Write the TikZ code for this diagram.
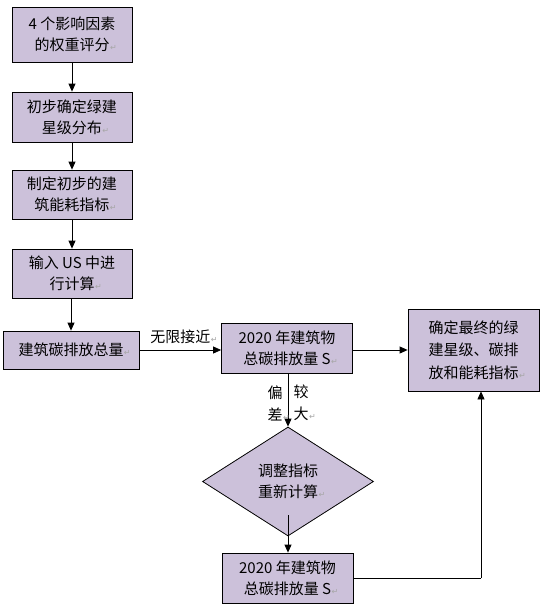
\documentclass[tikz,border=0pt]{standalone}
\usepackage{fontspec}
\setmainfont{Noto Sans CJK SC}
\newfontfamily\symfont{DejaVu Sans}
\usetikzlibrary{arrows.meta,shapes.geometric}
\definecolor{boxfill}{HTML}{CCC1DA}
\newcommand\retmark{\rlap{\kern0.5pt\textcolor{black!35}{\symfont\fontsize{8}{8}\selectfont ↵}}}
\begin{document}
\begin{tikzpicture}[x=1pt,y=-1pt,
  box/.style={draw=black,line width=0.8pt,fill=boxfill,inner sep=0pt,align=center,
    font=\fontsize{15}{21}\selectfont},
  dia/.style={diamond,draw=black,line width=0.8pt,fill=boxfill,inner sep=0pt,align=center,
    font=\fontsize{15}{21}\selectfont,minimum width=171pt,minimum height=109pt},
  lbl/.style={inner sep=0pt,align=center,font=\fontsize{15}{22}\selectfont},
  arr/.style={line width=0.8pt,-{Triangle[length=8pt,width=7pt]}},
  ln/.style={line width=0.8pt}]
\useasboundingbox[fill=white] (0,0) rectangle (547,616);
\node[box,minimum width=120pt,minimum height=55pt] (b1) at (72,34.5) {4 个影响因素\\的权重评分\retmark};
\node[box,minimum width=120pt,minimum height=50pt] (b2) at (72,117) {初步确定绿建\\星级分布\retmark};
\node[box,minimum width=120pt,minimum height=49pt] (b3) at (72,194.5) {制定初步的建\\筑能耗指标\retmark};
\node[box,minimum width=120pt,minimum height=49pt] (b4) at (72,273.5) {输入 US 中进\\行计算\retmark};
\node[box,minimum width=136pt,minimum height=38pt] (b5) at (71,350) {建筑碳排放总量\retmark};
\node[box,minimum width=131pt,minimum height=50pt] (b6) at (287,348) {2020 年建筑物\\总碳排放量 S\retmark};
\node[box,minimum width=131pt,minimum height=82pt,font=\fontsize{15}{22.5}\selectfont] (b7) at (473.5,350) {确定最终的绿\\建星级、碳排\\放和能耗指标\retmark};
\node[dia] (d) at (288,481.5) {调整指标\\重新计算\retmark};
\node[box,minimum width=131pt,minimum height=50pt] (b8) at (287.5,578) {2020 年建筑物\\总碳排放量 S\retmark};
\coordinate (c1) at (481,578);
\coordinate (c2) at (288,515);
\draw[arr] (b1) -- (b2);
\draw[arr] (b2) -- (b3);
\draw[arr] (b3) -- (b4);
\draw[arr] (b4.south -| b5.north) -- (b5.north);
\draw[arr] (b5.east) -- (b5.east -| b6.west) node[lbl,pos=0.5,above=6pt] (l1) {无限接近\retmark};
\draw[arr] (b6.east |- b7.west) -- (b7.west);
\draw[arr] (b6.south -| d.north) -- (d.north);
\node[lbl] (l2) at (275,403) {偏\\差\retmark};
\node[lbl] (l3) at (301,403) {较\\大\retmark};
\draw[arr] (c2) -- (b8.north -| c2);
\draw[ln] (b8.east |- c1) -- (c1);
\draw[arr] (c1) -- (c1 |- b7.south);
\end{tikzpicture}
\end{document}
